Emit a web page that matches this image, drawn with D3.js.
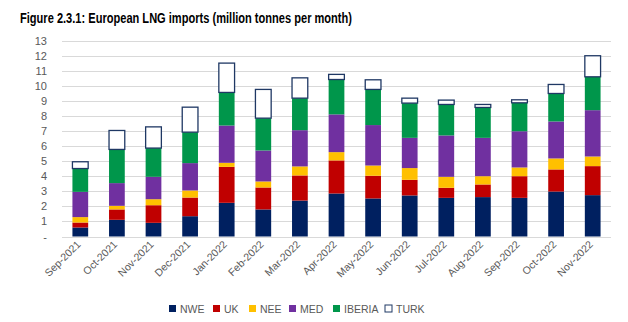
<!DOCTYPE html>
<html>
<head>
<meta charset="utf-8">
<script src="https://cdn.jsdelivr.net/npm/d3@7"></script>
<style>
body { margin: 0; background: #fff; }
text { font-family: "Liberation Sans", Arial, sans-serif; }
</style>
</head>
<body>
<script>
// datos (millones de toneladas por mes)
var months = ["Sep-2021", "Oct-2021", "Nov-2021", "Dec-2021", "Jan-2022", "Feb-2022", "Mar-2022", "Apr-2022",
	"May-2022", "Jun-2022", "Jul-2022", "Aug-2022", "Sep-2022", "Oct-2022", "Nov-2022"];
var regions = ["NWE", "UK", "NEE", "MED", "IBERIA", "TURK"];
var nwe    = [0.60, 1.11, 0.91, 1.35, 2.24, 1.80, 2.39, 2.86, 2.53, 2.73, 2.57, 2.62, 2.57, 2.99, 2.75];
var uk     = [0.33, 0.69, 1.17, 1.24, 2.39, 1.46, 1.67, 2.20, 1.51, 1.04, 0.67, 0.84, 1.44, 1.47, 1.93];
var nee    = [0.36, 0.24, 0.40, 0.47, 0.27, 0.40, 0.60, 0.55, 0.68, 0.78, 0.73, 0.55, 0.58, 0.73, 0.64];
var med    = [1.68, 1.51, 1.49, 1.82, 2.48, 2.06, 2.41, 2.51, 2.69, 2.01, 2.75, 2.55, 2.41, 2.46, 3.08];
var iberia = [1.55, 2.24, 1.91, 2.06, 2.20, 2.15, 2.13, 2.32, 2.37, 2.31, 2.06, 2.02, 1.89, 1.86, 2.22];
var turk   = [0.45, 1.26, 1.41, 1.66, 1.95, 1.91, 1.35, 0.34, 0.64, 0.33, 0.29, 0.20, 0.20, 0.60, 1.40];
var yTicks = [0, 1, 2, 3, 4, 5, 6, 7, 8, 9, 10, 11, 12, 13];

var colors = {NWE: "#002060", UK: "#c00000", NEE: "#ffc000", MED: "#7030a0", IBERIA: "#00964b", TURK: "#ffffff"};
var series = {NWE: nwe, UK: uk, NEE: nee, MED: med, IBERIA: iberia, TURK: turk};

var width = 628, height = 322;
var plot = {left: 62, right: 611, top: 41, bottom: 236.5};

var table = months.map(function(m, i){
	var row = {month: m};
	regions.forEach(function(r){ row[r] = series[r][i]; });
	return row;
});
var stacked = d3.stack().keys(regions)(table);

var svg = d3.select("body").append("svg")
	.attr("width", width)
	.attr("height", height);

//Titulo
svg.append("text")
	.attr("x", 20)
	.attr("y", 23)
	.attr("font-size", 14.5)
	.attr("font-weight", "bold")
	.attr("fill", "#000")
	.attr("textLength", 332)
	.attr("lengthAdjust", "spacingAndGlyphs")
	.text("Figure 2.3.1: European LNG imports (million tonnes per month)");

var x = d3.scaleBand().domain(months).range([plot.left, plot.right]).paddingInner(0.57).paddingOuter(0.285);
var y = d3.scaleLinear().domain([0, 13]).range([plot.bottom, plot.top]);

//Lineas de grilla
svg.append("g").selectAll("line").data(yTicks).enter().append("line")
	.attr("x1", plot.left)
	.attr("x2", plot.right)
	.attr("y1", function(d){ return Math.round(y(d)) + 0.5; })
	.attr("y2", function(d){ return Math.round(y(d)) + 0.5; })
	.attr("stroke", "#d9d9d9")
	.attr("stroke-width", 1);

//Etiquetas eje y
svg.append("g").selectAll("text").data(yTicks).enter().append("text")
	.attr("x", 47)
	.attr("y", function(d){ return y(d) + 4; })
	.attr("text-anchor", "end")
	.attr("font-size", 11)
	.attr("fill", "#595959")
	.text(function(d){ return d === 0 ? "-" : d; });

//Barras apiladas
var layers = svg.append("g").selectAll("g").data(stacked).enter().append("g")
	.attr("fill", function(d){ return colors[d.key]; });

layers.selectAll("rect").data(function(d){ return d.map(function(p){ return {p: p, key: d.key}; }); })
	.enter().append("rect")
	.attr("x", function(d){ return x(d.p.data.month); })
	.attr("width", x.bandwidth())
	.attr("y", function(d){ return y(d.p[1]); })
	.attr("height", function(d){ return y(d.p[0]) - y(d.p[1]); })
	.attr("stroke", function(d){ return d.key === "TURK" ? "#1f3864" : "none"; })
	.attr("stroke-width", function(d){ return d.key === "TURK" ? 1.3 : 0; });

//Etiquetas eje x
svg.append("g").selectAll("text").data(months).enter().append("text")
	.attr("transform", function(d){ return "translate(" + (x(d) + x.bandwidth() / 2 + 1) + ",245) rotate(-45)"; })
	.attr("text-anchor", "end")
	.attr("font-size", 10.5)
	.attr("fill", "#595959")
	.text(function(d){ return d; });

//Leyenda
var legendX = [169, 213, 249, 289, 333, 385];
var legend = svg.append("g").selectAll("g").data(regions).enter().append("g")
	.attr("transform", function(d, i){ return "translate(" + legendX[i] + ",305)"; });
legend.append("rect")
	.attr("width", 7)
	.attr("height", 7)
	.attr("fill", function(d){ return colors[d]; })
	.attr("stroke", function(d){ return d === "TURK" ? "#1f3864" : "none"; });
legend.append("text")
	.attr("x", 11)
	.attr("y", 7.5)
	.attr("font-size", 10.5)
	.attr("fill", "#595959")
	.text(function(d){ return d; });
</script>
</body>
</html>
